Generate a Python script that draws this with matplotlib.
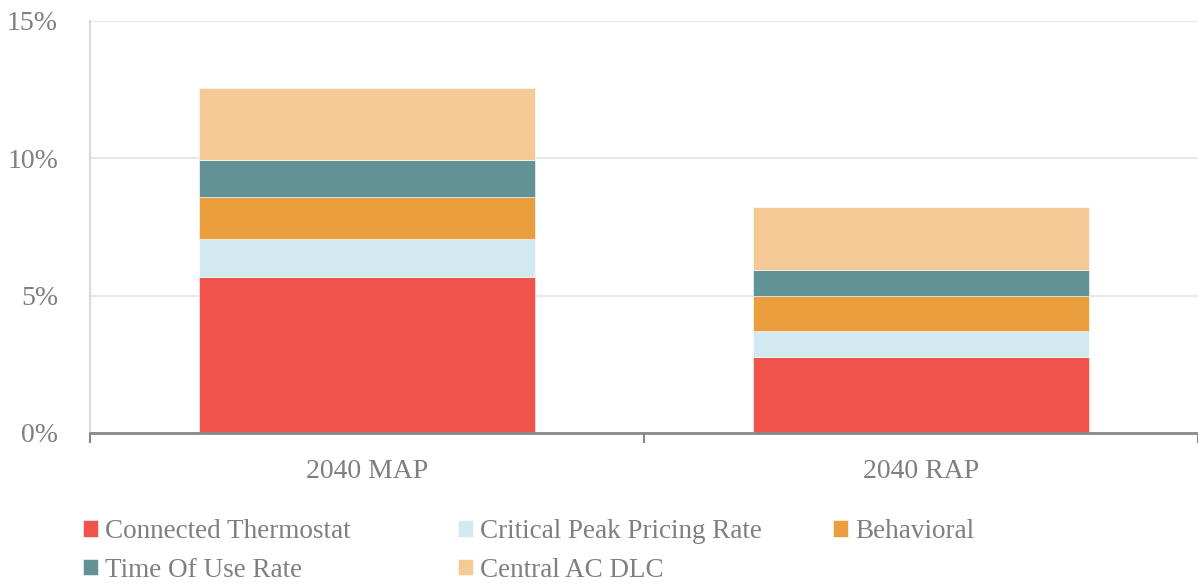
import matplotlib as mpl
mpl.use("Agg")
import matplotlib.pyplot as plt
import numpy as np
from matplotlib.ticker import FuncFormatter

mpl.rcParams["font.family"] = "Liberation Serif"

scenarios = ["2040 MAP", "2040 RAP"]
programs = ["Connected Thermostat", "Critical Peak Pricing Rate", "Behavioral",
            "Time Of Use Rate", "Central AC DLC"]
thermostat = [5.67, 2.76]
cpp_rate = [1.38, 0.95]
behavioral = [1.54, 1.28]
tou_rate = [1.36, 0.93]
central_ac = [2.60, 2.30]

colors = ["#EF534C", "#D1E9EF", "#EB9E3D", "#609296", "#F4C996"]
TXT = "#7F7F7F"

fig = plt.figure(figsize=(11.98, 5.84), dpi=100)
ax = fig.add_axes([0.0751, 0.2586, 0.9249, 0.7055])

x = np.arange(len(scenarios))
bottom = np.zeros(len(scenarios))
bars = []
for name, vals, col in zip(programs,
                           [thermostat, cpp_rate, behavioral, tou_rate, central_ac],
                           colors):
    b = ax.bar(x, vals, width=0.605, bottom=bottom, color=col, label=name,
               edgecolor="white", linewidth=0.4, zorder=3)
    bars.append(b)
    bottom += np.array(vals)

ax.set_xlim(-0.5, 1.5)
ax.set_ylim(0, 15)
ax.set_yticks([0, 5, 10, 15])
ax.yaxis.set_major_formatter(FuncFormatter(lambda v, p: "{:.0f}%".format(v)))
ax.grid(axis="y", color="#E8E8E8", lw=1.5, zorder=0)

ax.set_xticks(x)
ax.set_xticklabels(scenarios)
ax.set_xticks([-0.5, 0.5, 1.5], minor=True)
ax.tick_params(axis="x", which="major", length=0, pad=19, labelsize=20,
               labelcolor=TXT)
ax.tick_params(axis="x", which="minor", length=7, width=1.5, color="#898989")
ax.tick_params(axis="y", length=0, pad=23, labelsize=20, labelcolor=TXT)

for s in ["top", "right"]:
    ax.spines[s].set_visible(False)
ax.spines["left"].set_color("#D9D9D9")
ax.spines["left"].set_linewidth(1.5)
ax.spines["bottom"].set_color("#898989")
ax.spines["bottom"].set_linewidth(2)
ax.spines["bottom"].set_zorder(4)

# legend: fixed-width columns like the original
cols = [([bars[0], bars[3]], [programs[0], programs[3]], 0.0693),
        ([bars[1], bars[4]], [programs[1], programs[4]], 0.3823),
        ([bars[2]], [programs[2]], 0.6953)]
for hs, ls, x0 in cols:
    leg = fig.legend(hs, ls, loc="upper left", bbox_to_anchor=(x0, 0.111),
                     frameon=False, fontsize=19.5, handlelength=0.55,
                     handleheight=0.55, handletextpad=0.26, labelspacing=0.5,
                     borderaxespad=0, borderpad=0)
    for t in leg.get_texts():
        t.set_color(TXT)

fig.savefig("out.png", dpi=100)
